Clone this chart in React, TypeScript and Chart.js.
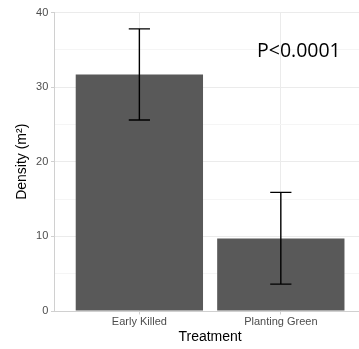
import React, { useEffect, useRef } from "react";
import { Chart, registerables } from "chart.js";

Chart.register(...registerables);

const categories = ["Early Killed", "Planting Green"];
const density = [31.7, 9.7];
const lower = [25.6, 3.6];
const upper = [37.8, 15.9];
const yTicks = [0, 10, 20, 30, 40];
const annotationText = "P<0.0001";

const errorBarPlugin = {
  id: "errorBars",
  afterDatasetsDraw(chart: any) {
    const { ctx, scales } = chart;
    const xs = scales.x;
    const ys = scales.y;
    ctx.save();
    ctx.strokeStyle = "#000000";
    ctx.lineWidth = 1.4;
    categories.forEach((_, i) => {
      const x = xs.getPixelForValue(i + 1);
      const half = Math.abs(xs.getPixelForValue(i + 1.075) - x);
      const yt = ys.getPixelForValue(upper[i]);
      const yb = ys.getPixelForValue(lower[i]);
      ctx.beginPath();
      ctx.moveTo(x, yt);
      ctx.lineTo(x, yb);
      ctx.moveTo(x - half, yt);
      ctx.lineTo(x + half, yt);
      ctx.moveTo(x - half, yb);
      ctx.lineTo(x + half, yb);
      ctx.stroke();
    });
    ctx.restore();
  },
};

const annotationPlugin = {
  id: "pValue",
  afterDraw(chart: any) {
    const { ctx } = chart;
    ctx.save();
    ctx.fillStyle = "#000000";
    ctx.font = '19.5px "Open Sans"';
    ctx.textAlign = "left";
    ctx.textBaseline = "alphabetic";
    ctx.fillText(annotationText, 257, 57.3);
    ctx.restore();
  },
};

export default function App() {
  const ref = useRef<HTMLCanvasElement>(null);

  useEffect(() => {
    if (!ref.current) return;
    const chart = new Chart(ref.current, {
      type: "bar",
      data: {
        datasets: [
          {
            data: density.map((v, i) => ({ x: i + 1, y: v })),
            backgroundColor: "#595959",
            borderWidth: 0,
            categoryPercentage: 1,
            barPercentage: 0.9,
          },
        ],
      },
      options: {
        responsive: false,
        animation: false,
        events: [],
        layout: { padding: { top: 12.5, right: 1.3, left: 0, bottom: 0 } },
        plugins: { legend: { display: false }, tooltip: { enabled: false } },
        scales: {
          x: {
            type: "linear",
            min: 0.4,
            max: 2.6,
            offset: false,
            bounds: "ticks",
            afterBuildTicks: (axis: any) => {
              axis.ticks = categories.map((_, i) => ({ value: i + 1 }));
            },
            afterFit: (scale: any) => {
              scale.height = 38;
            },
            ticks: {
              autoSkip: false,
              maxRotation: 0,
              padding: 1,
              color: "#4d4d4d",
              font: { family: '"Liberation Sans", Arial', size: 11 },
              callback: (v: any) => categories[Number(v) - 1] ?? "",
            },
            grid: {
              offset: false,
              color: "#ebebeb",
              tickColor: "#d0d0d0",
              tickLength: 3.5,
              lineWidth: 1,
            },
            border: { display: true, color: "#d0d0d0" },
            title: {
              display: true,
              text: "Treatment",
              color: "#000000",
              font: { family: '"Liberation Sans", Arial', size: 14 },
              padding: { top: 0, bottom: 3.6 },
            },
          },
          y: {
            type: "linear",
            min: 0,
            max: 40,
            afterFit: (scale: any) => {
              scale.width = 54.5;
            },
            ticks: {
              stepSize: 5,
              padding: 2.7,
              color: "#4d4d4d",
              font: { family: '"Liberation Sans", Arial', size: 11 },
              callback: (v: any) => (yTicks.includes(Number(v)) ? String(v) : ""),
            },
            grid: {
              color: (c: any) =>
                yTicks.includes(c.tick?.value) ? "#ebebeb" : "#f5f5f5",
              tickColor: (c: any) =>
                yTicks.includes(c.tick?.value) ? "#d0d0d0" : "rgba(0,0,0,0)",
              tickLength: 3.5,
              lineWidth: 1,
            },
            border: { display: true, color: "#d0d0d0" },
            title: {
              display: true,
              text: "Density (m²)",
              color: "#000000",
              font: { family: '"Liberation Sans", Arial', size: 14 },
              padding: { top: 13.6, bottom: 0 },
            },
          },
        },
      },
      plugins: [errorBarPlugin, annotationPlugin],
    } as any);
    return () => chart.destroy();
  }, []);

  return (
    <div
      style={{
        position: "absolute",
        left: 0,
        top: 0,
        width: 359,
        height: 349,
        overflow: "hidden",
        background: "#ffffff",
      }}
    >
      <canvas ref={ref} width={367} height={349} style={{ display: "block" }} />
    </div>
  );
}
